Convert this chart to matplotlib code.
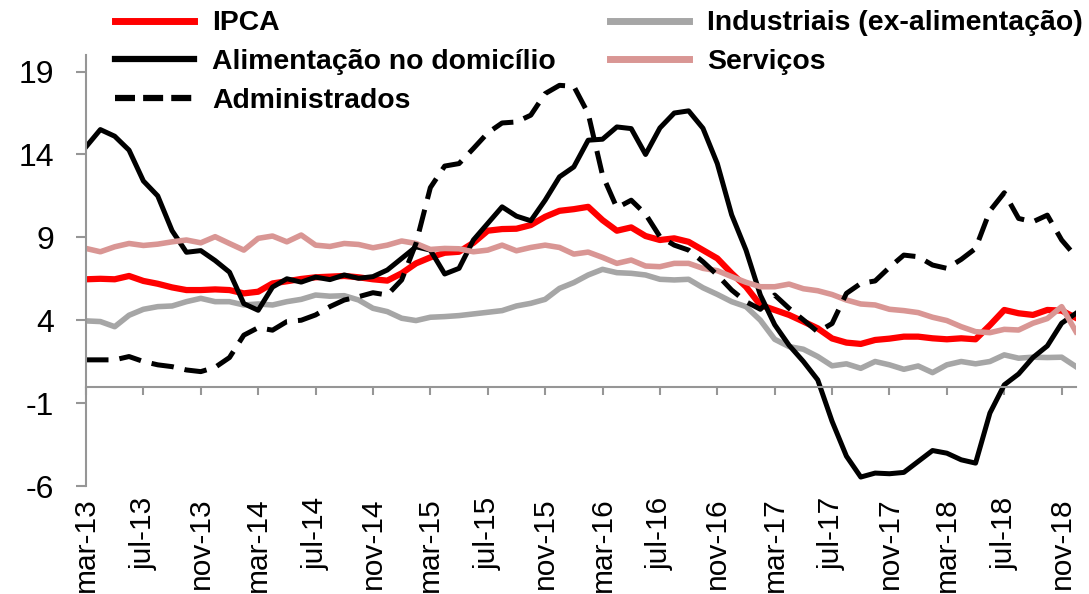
import numpy as np
import matplotlib.pyplot as plt
from matplotlib.lines import Line2D

plt.rcParams['font.family'] = ['Liberation Sans', 'DejaVu Sans']
plt.rcParams['axes.unicode_minus'] = False

# monthly, mar-13 .. last obs (index 69)
ipca = [6.47, 6.5, 6.47, 6.67, 6.37, 6.2, 5.98, 5.82, 5.82, 5.86, 5.82, 5.62, 5.72, 6.22, 6.35, 6.49, 6.59, 6.63,
        6.67, 6.59, 6.47, 6.39, 6.83, 7.43, 7.79, 8.07, 8.13, 8.67, 9.4, 9.5, 9.52, 9.74, 10.24, 10.6, 10.7,
        10.84, 10.04, 9.4, 9.6, 9.08, 8.84, 8.94, 8.73, 8.23, 7.73, 6.83, 6.02, 4.92, 4.62, 4.32, 3.92, 3.51, 2.9,
        2.65, 2.57, 2.81, 2.89, 3.01, 3.01, 2.91, 2.85, 2.91, 2.85, 3.7, 4.62, 4.42, 4.32, 4.62, 4.58, 4.14]
industriais = [3.96, 3.92, 3.61, 4.3, 4.66, 4.82, 4.86, 5.12, 5.32, 5.12, 5.12, 4.92, 4.98, 4.92, 5.12, 5.26, 5.52, 5.45,
               5.48, 5.22, 4.72, 4.52, 4.12, 3.98, 4.18, 4.22, 4.28, 4.38, 4.48, 4.58, 4.86, 5.02, 5.26, 5.92, 6.27,
               6.73, 7.07, 6.87, 6.83, 6.73, 6.47, 6.43, 6.47, 5.96, 5.56, 5.12, 4.82, 4.0, 2.85, 2.41, 2.25, 1.81, 1.25,
               1.37, 1.1, 1.51, 1.31, 1.04, 1.24, 0.84, 1.31, 1.51, 1.37, 1.51, 1.91, 1.71, 1.77, 1.75, 1.77, 1.2]
alimentacao = [14.46, 15.5, 15.1, 14.26, 12.4, 11.5, 9.4, 8.1, 8.2, 7.6, 6.9, 5.0, 4.6, 6.0, 6.5, 6.3, 6.6, 6.45,
               6.73, 6.53, 6.63, 7.03, 7.73, 8.43, 8.23, 6.79, 7.13, 8.84, 9.84, 10.84, 10.28, 10.0, 11.24, 12.65, 13.25,
               14.86, 14.92, 15.66, 15.56, 14.0, 15.6, 16.5, 16.63, 15.58, 13.45, 10.36, 8.23, 5.52, 3.73, 2.49, 1.51, 0.4, -2.1,
               -4.2, -5.46, -5.22, -5.26, -5.18, -4.52, -3.86, -4.02, -4.42, -4.62, -1.6, 0.1, 0.76, 1.75, 2.45, 3.82, 4.42]
servicos = [8.33, 8.13, 8.43, 8.63, 8.51, 8.59, 8.73, 8.84, 8.67, 9.04, 8.63, 8.23, 8.94, 9.08, 8.73, 9.14, 8.53, 8.45,
            8.63, 8.57, 8.37, 8.53, 8.78, 8.63, 8.27, 8.33, 8.31, 8.13, 8.23, 8.53, 8.19, 8.39, 8.53, 8.39, 7.99,
            8.11, 7.79, 7.43, 7.63, 7.27, 7.23, 7.43, 7.43, 7.13, 6.99, 6.63, 6.29, 6.02, 6.02, 6.18, 5.9, 5.78, 5.55,
            5.22, 4.98, 4.92, 4.66, 4.58, 4.46, 4.18, 3.98, 3.61, 3.31, 3.25, 3.45, 3.41, 3.82, 4.1, 4.82, 3.31]
administrados = [1.61, 1.61, 1.61, 1.81, 1.51, 1.31, 1.2, 1.0, 0.9, 1.16, 1.75, 3.1, 3.55, 3.4, 3.92, 4.0, 4.32, 4.82,
                 5.22, 5.42, 5.66, 5.52, 6.43, 8.63, 12.0, 13.3, 13.45, 14.36, 15.3, 15.9, 15.96, 16.37, 17.67, 18.17, 18.11,
                 16.47, 12.75, 10.78, 11.24, 10.4, 9.04, 8.53, 8.23, 7.53, 6.73, 5.82, 5.12, 4.66, 5.52, 4.72, 4.02, 3.3, 3.8,
                 5.62, 6.22, 6.37, 7.19, 7.93, 7.83, 7.33, 7.13, 7.67, 8.33, 10.6, 11.69, 10.14, 9.94, 10.34, 8.84, 7.83]

tick_labels = ['mar-13', 'jul-13', 'nov-13', 'mar-14', 'jul-14', 'nov-14', 'mar-15', 'jul-15', 'nov-15',
               'mar-16', 'jul-16', 'nov-16', 'mar-17', 'jul-17', 'nov-17', 'mar-18', 'jul-18', 'nov-18']

x = np.arange(len(ipca))
gray = '#969696'

fig = plt.figure(figsize=(10.89, 5.94), dpi=100)
ax = fig.add_axes([86/1089, 108/594, 990/1089, 431/594])

ax.plot(x, ipca, color='#FF0000', lw=4.5, solid_joinstyle='round')
ax.plot(x, industriais, color='#A6A6A6', lw=4, solid_joinstyle='round')
ax.plot(x, alimentacao, color='black', lw=3.6, solid_joinstyle='round')
ax.plot(x, servicos, color='#D99694', lw=4, solid_joinstyle='round')
ax.plot(x, administrados, color='black', lw=3.6, ls=(0, (4.5, 2.2)))

ax.set_xlim(0, 69)
ax.set_ylim(-6, 20)
ax.set_yticks([-6, -1, 4, 9, 14, 19])
ax.set_xticks(np.arange(0, 69, 4))

for s in ['top', 'right']:
    ax.spines[s].set_visible(False)
ax.spines['left'].set_color(gray)
ax.spines['left'].set_linewidth(1.5)
ax.spines['bottom'].set_position(('data', 0))
ax.spines['bottom'].set_color(gray)
ax.spines['bottom'].set_linewidth(1.5)
ax.tick_params(axis='y', colors=gray, labelcolor='black', labelsize=23, length=7.2, width=1.5, pad=16)
ax.tick_params(axis='x', colors=gray, labelbottom=False, length=6, width=1.5)

sec = ax.secondary_xaxis('bottom')
sec.set_xticks(np.arange(0, 69, 4))
sec.set_xticklabels(tick_labels, rotation=90)
sec.tick_params(length=0, pad=8, labelsize=21.5)
sec.spines['bottom'].set_visible(False)

leg_font = {'weight': 'bold', 'size': 20.4}
h1 = [Line2D([], [], color='#FF0000', lw=5),
      Line2D([], [], color='black', lw=4.5),
      Line2D([], [], color='black', lw=4.5, ls=(0, (3.2, 1.3)))]
leg1 = fig.legend(h1, ['IPCA', 'Alimentação no domicílio', 'Administrados'],
                  loc='upper left', bbox_to_anchor=(115/1089, 1 - 10.5/594), frameon=False, prop=leg_font,
                  handlelength=2.8, handletextpad=0.62, labelspacing=0.45, borderpad=0, borderaxespad=0)
h2 = [Line2D([], [], color='#A6A6A6', lw=5), Line2D([], [], color='#D99694', lw=5)]
leg2 = fig.legend(h2, ['Industriais (ex-alimentação)', 'Serviços'],
                  loc='upper left', bbox_to_anchor=(610/1089, 1 - 10.5/594), frameon=False, prop=leg_font,
                  handlelength=2.8, handletextpad=0.62, labelspacing=0.45, borderpad=0, borderaxespad=0)

fig.savefig('out.png', dpi=100)
